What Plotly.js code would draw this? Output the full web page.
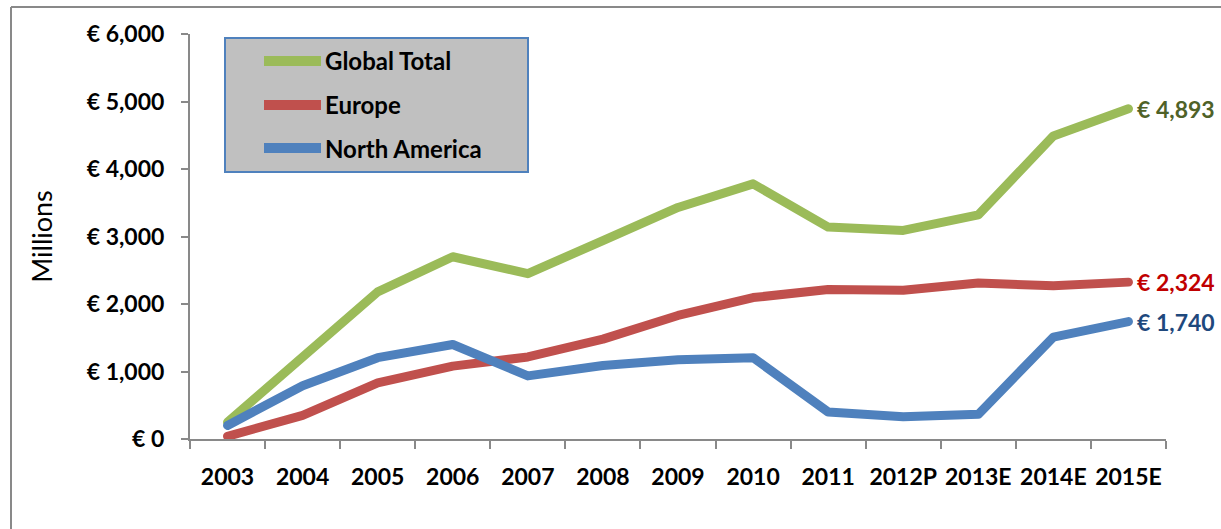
<!DOCTYPE html>
<html><head><meta charset="utf-8">
<script src="https://cdn.plot.ly/plotly-3.0.1.min.js"></script>
<style>
html,body{margin:0;padding:0;background:#fff;}
#chart{width:1221px;height:529px;}
.js-line{stroke-linecap:round;stroke-linejoin:round;}
</style></head>
<body><div id="chart"></div>
<script>
const years = ['2003','2004','2005','2006','2007','2008','2009','2010','2011','2012P','2013E','2014E','2015E'];
const globalTotal = [250,1210,2180,2700,2450,2940,3430,3780,3140,3090,3320,4490,4893];
const europe = [40,350,830,1080,1215,1480,1830,2095,2215,2205,2310,2270,2324];
const northAmerica = [200,790,1205,1400,935,1090,1175,1205,400,330,365,1510,1740];
const seriesNames = ['Global Total','Europe','North America'];
const seriesValues = [globalTotal, europe, northAmerica];
const lineColors = ['#9BBB59','#C0504D','#4F81BD'];
const labelColors = ['#4F6228','#C00000','#1F497D'];
const yTitle = 'Millions';

const W = 1221, H = 529;
const M = {l:190, r:55, t:34, b:90};
const PW = W - M.l - M.r, PH = H - M.t - M.b;
const px = x => (x - M.l) / PW;
const py = y => (H - M.b - y) / PH;
const FONT = 'Lato, "Open Sans", sans-serif';
const grey = '#898989';

const traces = seriesNames.map((n,i) => ({
  type:'scatter', mode:'lines', name:n, x:years, y:seriesValues[i],
  line:{color:lineColors[i], width:9}, hoverinfo:'x+y+name'
}));

const fmt = v => '€ ' + v.toLocaleString('en-US');
const annotations = seriesNames.map((n,i) => ({
  x: years[years.length-1], y: seriesValues[i][seriesValues[i].length-1],
  xref:'x', yref:'y', xanchor:'left', yanchor:'middle', xshift:7, showarrow:false,
  text: fmt(seriesValues[i][seriesValues[i].length-1]),
  font:{family:FONT, size:23, color:labelColors[i], weight:'bold'}
}));

const shapes = [
  // outer frame
  {type:'line', xref:'paper', yref:'paper', x0:px(11), x1:px(11), y0:py(7), y1:py(560), line:{color:grey, width:2}},
  {type:'line', xref:'paper', yref:'paper', x0:px(11), x1:px(1260), y0:py(7), y1:py(7), line:{color:grey, width:2}},
  // legend box
  {type:'rect', xref:'paper', yref:'paper', x0:px(225), x1:px(528), y0:py(172), y1:py(38),
   fillcolor:'#C0C0C0', line:{color:'#4F81BD', width:2}, layer:'above'}
];
const legendY = [61, 105, 148];
seriesNames.forEach((n,i) => {
  shapes.push({type:'line', xref:'paper', yref:'paper', x0:px(264), x1:px(321), y0:py(legendY[i]), y1:py(legendY[i]),
    line:{color:lineColors[i], width:10}, layer:'above'});
  annotations.push({xref:'paper', yref:'paper', x:px(323), y:py(legendY[i]), xanchor:'left', yanchor:'middle',
    showarrow:false, text:n, font:{family:FONT, size:24, color:'#000', weight:'bold'}});
});

const layout = {
  width:W, height:H, margin:M, paper_bgcolor:'#fff', plot_bgcolor:'rgba(0,0,0,0)',
  showlegend:false,
  xaxis:{type:'category', range:[-0.5, years.length-0.5], showline:true, linecolor:grey, linewidth:2,
    ticks:'outside', tickson:'boundaries', ticklen:8, tickwidth:2, tickcolor:grey, showgrid:false, tickangle:0,
    zeroline:false, tickfont:{family:FONT, size:23, color:'#000', weight:'bold'}, ticklabelstandoff:16, fixedrange:true},
  yaxis:{range:[0,6000], dtick:1000, tick0:0, tickprefix:'€ ', tickformat:',d', showline:true, linecolor:grey, linewidth:2,
    ticks:'outside', ticklen:7, tickwidth:2, tickcolor:grey, showgrid:false, zeroline:false,
    tickfont:{family:FONT, size:23, color:'#000', weight:'bold'}, ticklabelstandoff:12,
    title:{text:yTitle, font:{family:FONT, size:27, color:'#000'}, standoff:26}, automargin:false, fixedrange:true},
  shapes:shapes, annotations:annotations
};
Plotly.newPlot('chart', traces, layout, {displayModeBar:false});
</script></body></html>
